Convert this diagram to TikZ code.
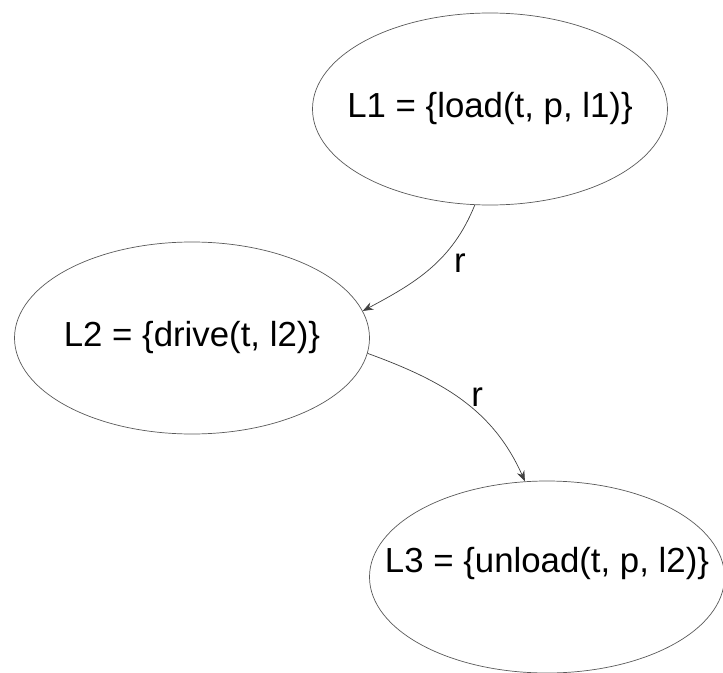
\documentclass[tikz,border=0pt]{standalone}
\usepackage{fontspec}
\setmainfont{Liberation Sans}
\usepackage{xcolor}
\usepackage{tikz}
\usetikzlibrary{shapes.geometric, arrows.meta}
\tikzset{
    myarrow/.style={-{Stealth[length=6pt, width=4.5pt]}, draw=black!75},
    state/.style={draw=black!65, ellipse, minimum width=7.1cm, minimum height=3.84cm, inner sep=0pt, font=\fontsize{19.8}{24}\selectfont},
    rlabel/.style={font=\fontsize{19.8}{24}\selectfont}
}

\begin{document}
\begin{tikzpicture}
    \useasboundingbox (0,0) rectangle (14.46,13.44);
    \node (load) [state] at (9.80,11.26) {\makebox[0pt]{L1 = \{load(t, p, l1)\}}};
    \node (drive) [state] at (3.84,6.68) {\makebox[0pt]{L2 = \{drive(t, l2)\}}};
    \node (unload) [state, text depth=0.7cm] at (10.94,1.90) {\makebox[0pt]{L3 = \{unload(t, p, l2)\}}};
    \draw [myarrow] (load.261) to[out=248, in=28] node[rlabel, right=7pt, pos=0.45] {r} (drive.9);
    \draw [myarrow] (drive.355) to[out=-20, in=114] node[rlabel, above=0pt, pos=0.6] {r} (unload.103);
\end{tikzpicture}
\end{document}
